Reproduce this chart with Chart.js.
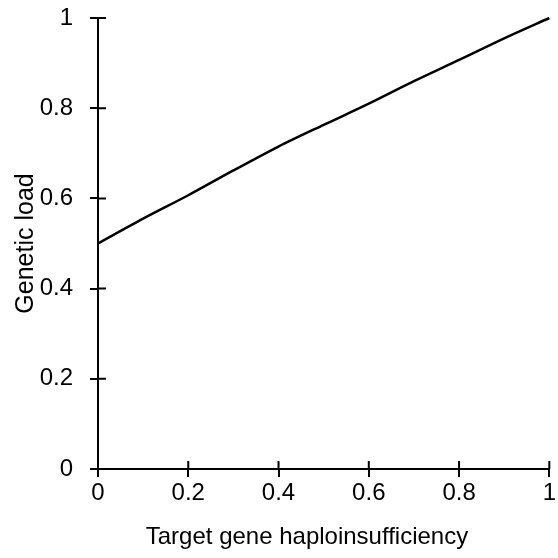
<!DOCTYPE html>
<html>
<head>
<meta charset="utf-8">
<script src="https://cdn.jsdelivr.net/npm/chart.js@4/dist/chart.umd.min.js"></script>
<style>
	html, body { margin: 0; padding: 0; background: #fff; }
	#wrap { width: 558px; height: 558px; }
</style>
</head>
<body>
<div id="wrap"><canvas id="chart"></canvas></div>
<script>
// haploinsufficiency of the target gene vs genetic load
const haplo = [0, 0.1, 0.2, 0.3, 0.4, 0.5, 0.6, 0.7, 0.8, 0.9, 1];
const load = [0.5, 0.555, 0.607, 0.662, 0.715, 0.763, 0.81, 0.86, 0.907, 0.955, 1];
const xTicks = [0, 0.2, 0.4, 0.6, 0.8, 1];
const yTicks = [0, 0.2, 0.4, 0.6, 0.8, 1];

const font = { family: 'Liberation Sans, Arial, sans-serif', size: 24 };
const fmt = v => String(Math.round(v * 10) / 10);

// ticks in the reference cross the axis line, so draw the inner half ourselves
const innerTicks = {
	id: 'innerTicks',
	afterDraw(chart) {
		const ctx = chart.ctx;
		const x = chart.scales.x, y = chart.scales.y;
		ctx.save();
		ctx.strokeStyle = '#000';
		ctx.lineWidth = 2;
		ctx.beginPath();
		xTicks.forEach(v => {
			const px = x.getPixelForValue(v);
			ctx.moveTo(px, y.bottom);
			ctx.lineTo(px, y.bottom - 8);
		});
		yTicks.forEach(v => {
			const py = y.getPixelForValue(v);
			ctx.moveTo(x.left, py);
			ctx.lineTo(x.left + 8, py);
		});
		ctx.stroke();
		ctx.restore();
	}
};

new Chart(document.getElementById('chart'), {
	type: 'line',
	data: {
		labels: haplo,
		datasets: [{
			data: haplo.map((h, i) => ({ x: h, y: load[i] })),
			borderColor: '#000',
			borderWidth: 2.5,
			pointRadius: 0,
			fill: false,
			tension: 0.3,
			clip: false
		}]
	},
	options: {
		responsive: true,
		maintainAspectRatio: false,
		animation: false,
		layout: { padding: { left: 2, right: 4, top: 18, bottom: 2 } },
		plugins: { legend: { display: false }, tooltip: { enabled: false } },
		scales: {
			x: {
				type: 'linear',
				min: 0,
				max: 1,
				afterBuildTicks: s => { s.ticks = xTicks.map(v => ({ value: v })); },
				afterFit: s => { s.height = 87; },
				border: { color: '#000', width: 2 },
				grid: { drawOnChartArea: false, tickLength: 8, color: '#000', lineWidth: 2 },
				ticks: { color: '#000', font, padding: 2, maxRotation: 0, callback: fmt },
				title: { display: true, text: 'Target gene haploinsufficiency\u00a0\u00a0\u00a0\u00a0\u00a0', color: '#000', font, padding: { top: 6 } }
			},
			y: {
				type: 'linear',
				min: 0,
				max: 1,
				afterBuildTicks: s => { s.ticks = yTicks.map(v => ({ value: v })); },
				afterFit: s => { s.width = 96; s.paddingTop = 0; },
				border: { color: '#000', width: 2 },
				grid: { drawOnChartArea: false, tickLength: 8, color: '#000', lineWidth: 2 },
				ticks: { color: '#000', font, padding: 17, callback: fmt },
				title: { display: true, text: 'Genetic load', color: '#000', font: { family: font.family, size: 25 }, padding: { bottom: 0, top: 9 } }
			}
		}
	},
	plugins: [innerTicks]
});
</script>
</body>
</html>
